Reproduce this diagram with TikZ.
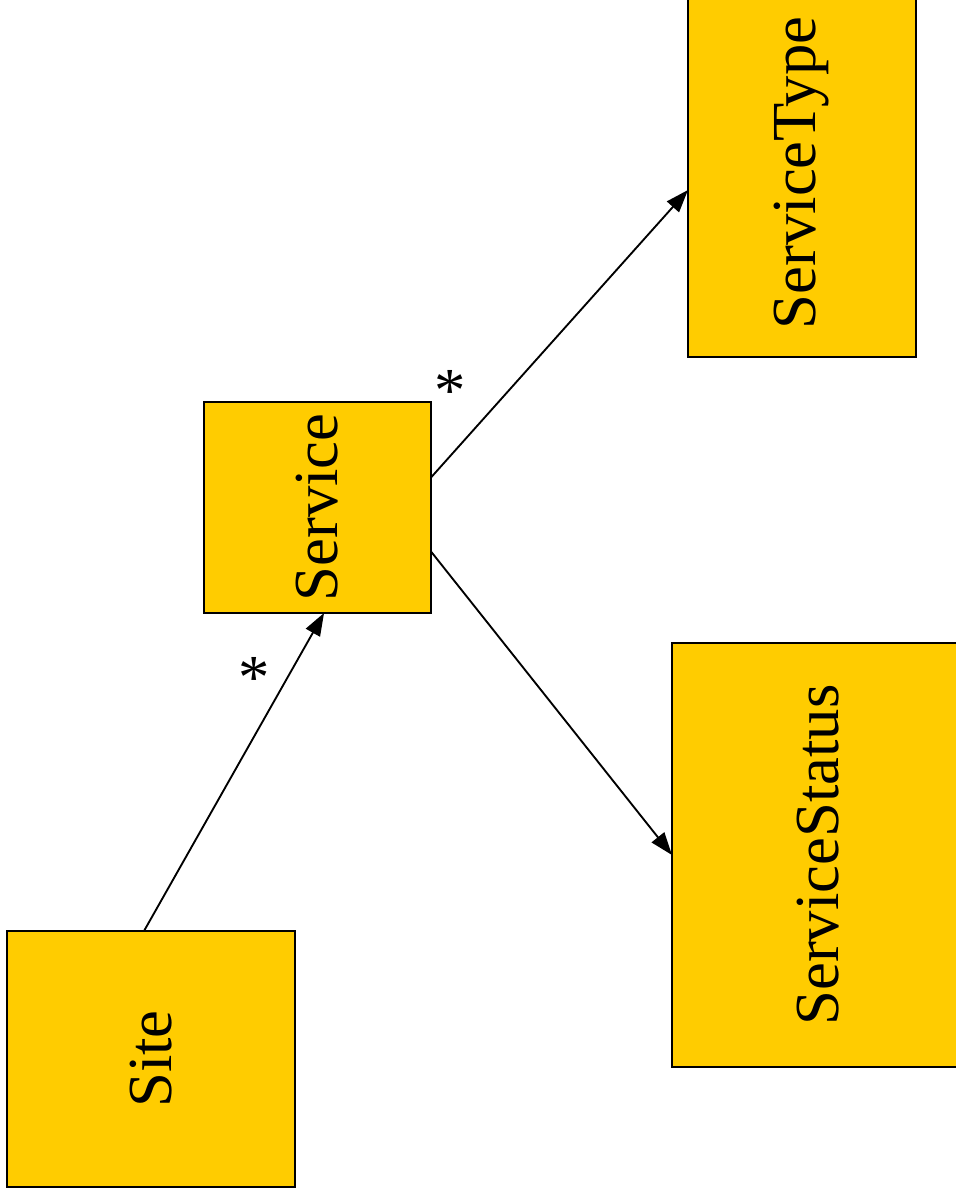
\documentclass[tikz,border=0pt]{standalone}
\usepackage{fontspec}
\setmainfont{Liberation Serif}
\usetikzlibrary{positioning,arrows.meta}
\usepackage{xcolor}
\definecolor{classbg}{HTML}{FFCC00}

\begin{document}
\begin{tikzpicture}[
    x=0.75pt, y=-0.75pt,
 classbox/.style = {
        draw, rectangle, align=center, fill=classbg,
        line width=1.5pt, inner sep=0pt, outer sep=0pt,
        font=\fontsize{47}{56}\selectfont},
 mult/.style = {
        inner sep=0pt, anchor=base,
        font=\fontsize{47}{56}\selectfont},
     arrow/.style = {line width=1.4pt, -{Triangle[length=17pt,width=12pt]}}
                    ]
\useasboundingbox (0,0) rectangle (956,1197);
% the classes
\node (site) [classbox, minimum width=216pt, minimum height=192pt]
        at (151,1059) {\rotatebox{90}{Site}};
\node (service) [classbox, minimum width=170.25pt, minimum height=158.25pt]
        at (317.5,507.5) {\rotatebox{90}{Service}};
\node (stype) [classbox, minimum width=171pt, minimum height=276pt]
        at (802,173) {\rotatebox{90}{ServiceType}};
\node (sstatus) [classbox, minimum width=219pt, minimum height=318pt]
        at (818,855) {\rotatebox{90}{ServiceStatus}};
% the associations
\draw[arrow] ([xshift=-5.25pt]site.north) -- ([xshift=4.9pt]service.south);
\draw[arrow] ([yshift=22.5pt]service.east) -- ([yshift=-12.75pt]stype.west);
\draw[arrow] ([yshift=-33pt]service.east) -- (sstatus.west);
% the multiplicities
\node (m1) [mult] at (254,698) {*};
\node (m2) [mult] at (450,411) {*};
\end{tikzpicture}
\end{document}
